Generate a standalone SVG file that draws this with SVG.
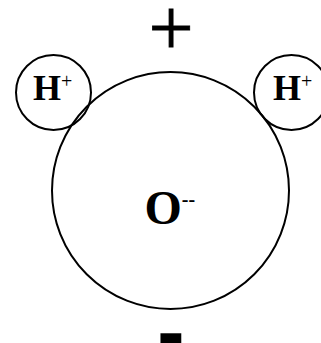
<svg xmlns="http://www.w3.org/2000/svg" width="321" height="343" viewBox="0 0 321 343">
<style>
.ring{fill:none;stroke:#000;stroke-width:2}
.lbl{font-family:"Liberation Serif","Times New Roman",serif;font-weight:bold;fill:#000}
.sup{font-family:"Liberation Serif","Times New Roman",serif;fill:#000}
.sign{fill:#000;text-anchor:middle}
</style>
<rect width="321" height="343" fill="#fff"/>
<g id="oxygen">
<circle class="ring" cx="170.5" cy="190.5" r="118.5"/>
<text class="lbl" x="144.5" y="224" font-size="48">O<tspan class="lbl" font-size="20" dy="-18">--</tspan></text>
</g>
<g id="hydrogen-left">
<circle class="ring" cx="53.5" cy="92.5" r="37.5"/>
<text class="lbl" x="33" y="99.5" font-size="36">H<tspan class="sup" font-weight="normal" font-size="20" dy="-11.5">+</tspan></text>
</g>
<g id="hydrogen-right">
<circle class="ring" cx="291.5" cy="92.5" r="37.5"/>
<text class="lbl" x="273" y="99.5" font-size="36">H<tspan class="sup" font-weight="normal" font-size="20" dy="-11.5">+</tspan></text>
</g>
<g id="positive-pole">
<text class="sign" x="171" y="55" font-size="80" stroke="#000" stroke-width="0.8" font-family="'Liberation Serif','Times New Roman',serif">+</text>
</g>
<g id="negative-pole">
<text class="sign" x="171" y="359" font-size="82" font-weight="bold" font-family="'Liberation Sans',Arial,sans-serif">-</text>
</g>
</svg>
